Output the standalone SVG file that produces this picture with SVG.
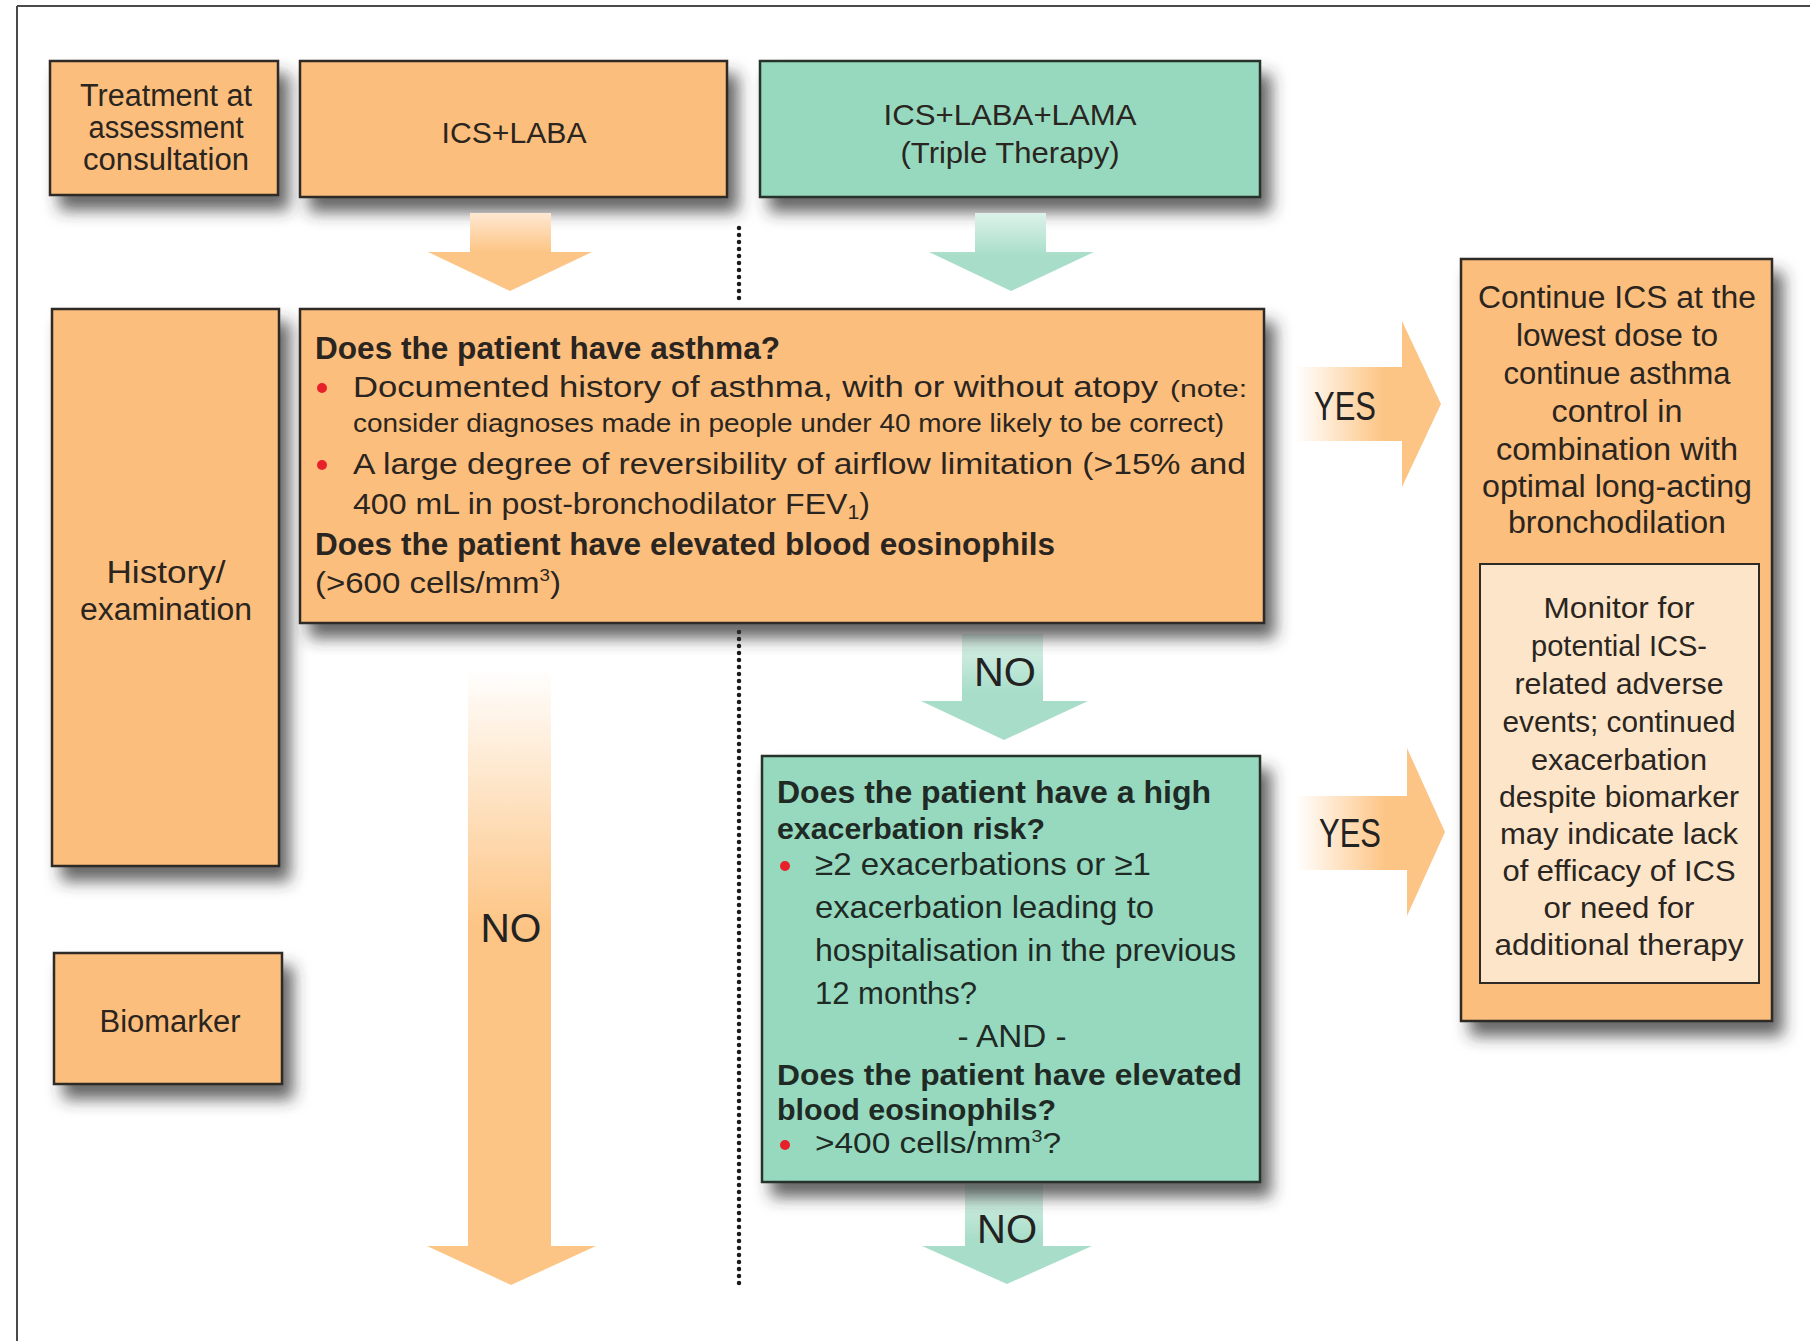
<svg xmlns="http://www.w3.org/2000/svg" width="1810" height="1341" viewBox="0 0 1810 1341">
<defs>
<filter id="sh" x="-10%" y="-10%" width="130%" height="140%">
<feDropShadow dx="10" dy="14" stdDeviation="8" flood-color="#333333" flood-opacity="0.75"/>
</filter>
<linearGradient id="gOrV" x1="0" y1="0" x2="0" y2="1">
<stop offset="0" stop-color="#FEE8D2"/><stop offset="0.5" stop-color="#FDC585"/><stop offset="1" stop-color="#FDC585"/>
</linearGradient>
<linearGradient id="gOrLong" x1="0" y1="0" x2="0" y2="1">
<stop offset="0" stop-color="#FFFFFF"/><stop offset="0.42" stop-color="#FDC585"/><stop offset="1" stop-color="#FDC585"/>
</linearGradient>
<linearGradient id="gGrV" x1="0" y1="0" x2="0" y2="1">
<stop offset="0" stop-color="#DDF2EA"/><stop offset="0.55" stop-color="#A8DEC9"/><stop offset="1" stop-color="#A8DEC9"/>
</linearGradient>
<linearGradient id="gOrH" x1="0" y1="0" x2="1" y2="0">
<stop offset="0" stop-color="#FFFFFF"/><stop offset="0.6" stop-color="#FDC585"/><stop offset="1" stop-color="#FDC585"/>
</linearGradient>
<style>
.or{fill:#FCBE7C;stroke:#2e2a25;stroke-width:2.5}
.gr{fill:#96D9BF;stroke:#25302b;stroke-width:2.5}
.pe{fill:#FDE5CA;stroke:#2e2a25;stroke-width:2}
text{font-family:"Liberation Sans",Arial,sans-serif;fill:#2a2520}
.c{text-anchor:middle}
.t30{font-size:30px}
.t31{font-size:31px}
.t32{font-size:32px}
.b{font-weight:bold}
.lab{font-size:40px;text-anchor:middle;fill:#222}
.bul{fill:#E8202A}
.gt{fill:#1f2a25}
</style>
</defs>
<rect width="1810" height="1341" fill="#FFFFFF"/>
<path d="M17 6 H1810 M17 6 V1341" stroke="#4a4a4a" stroke-width="2" fill="none"/>

<g id="node-treatment">
<rect class="or" x="50" y="61" width="228" height="134" filter="url(#sh)"/>
<text class="c t31" x="166" y="106" textLength="172" lengthAdjust="spacingAndGlyphs">Treatment at</text>
<text class="c t31" x="166" y="138" textLength="155" lengthAdjust="spacingAndGlyphs">assessment</text>
<text class="c t31" x="166" y="170" textLength="166" lengthAdjust="spacingAndGlyphs">consultation</text>
</g>
<g id="node-ics-laba">
<rect class="or" x="300" y="61" width="427" height="136" filter="url(#sh)"/>
<text class="c t30" x="514" y="143" textLength="145" lengthAdjust="spacingAndGlyphs">ICS+LABA</text>
</g>
<g id="node-triple">
<rect class="gr" x="760" y="61" width="500" height="136" filter="url(#sh)"/>
<text class="c t30" x="1010" y="125" textLength="253" lengthAdjust="spacingAndGlyphs">ICS+LABA+LAMA</text>
<text class="c t30" x="1010" y="163" textLength="219" lengthAdjust="spacingAndGlyphs">(Triple Therapy)</text>
</g>
<g id="node-history">
<rect class="or" x="52" y="309" width="227" height="557" filter="url(#sh)"/>
<text class="c t31" x="166" y="583" textLength="119" lengthAdjust="spacingAndGlyphs">History/</text>
<text class="c t31" x="166" y="620" textLength="172" lengthAdjust="spacingAndGlyphs">examination</text>
</g>
<g id="node-biomarker">
<rect class="or" x="54" y="953" width="228" height="131" filter="url(#sh)"/>
<text class="c t31" x="170" y="1032" textLength="141" lengthAdjust="spacingAndGlyphs">Biomarker</text>
</g>

<g id="connectors">
<path d="M739 228 V302 M739 632 V1289" stroke="#1a1a1a" stroke-width="4.5" stroke-linecap="round" stroke-dasharray="0 7" fill="none"/>
<polygon fill="url(#gOrV)" points="470,213 551,213 551,252 592,252 510,291 428,252 470,252"/>
<polygon fill="url(#gGrV)" points="975,213 1046,213 1046,252 1094,252 1011,291 929,252 975,252"/>
<polygon fill="url(#gGrV)" points="962,634 1043,634 1043,701 1088,701 1004,740 921,701 962,701"/>
<polygon fill="url(#gGrV)" points="965,1184 1043,1184 1043,1246 1092,1246 1007,1284 922,1246 965,1246"/>
<polygon fill="url(#gOrLong)" points="468,668 551,668 551,1246 596,1246 511,1285 427,1246 468,1246"/>
<polygon fill="url(#gOrH)" points="1296,367 1402,367 1402,321 1441,404 1402,487 1402,441 1296,441"/>
<polygon fill="url(#gOrH)" points="1296,796 1407,796 1407,748 1445,832 1407,916 1407,870 1296,870"/>
<text class="lab" x="1345" y="420" textLength="62" lengthAdjust="spacingAndGlyphs">YES</text>
<text class="lab" x="1350" y="847" textLength="62" lengthAdjust="spacingAndGlyphs">YES</text>
<text class="lab" x="1005" y="686" textLength="62" lengthAdjust="spacingAndGlyphs">NO</text>
<text class="lab" x="511" y="942" textLength="61" lengthAdjust="spacingAndGlyphs">NO</text>
<text class="lab" x="1007" y="1243" textLength="60" lengthAdjust="spacingAndGlyphs">NO</text>
</g>

<g id="node-asthma">
<rect class="or" x="300" y="309" width="964" height="314" filter="url(#sh)"/>
<text class="t31 b" x="315" y="359" textLength="465" lengthAdjust="spacingAndGlyphs">Does the patient have asthma?</text>
<circle class="bul" cx="322" cy="388" r="5"/>
<text class="t30" x="353" y="397" textLength="805" lengthAdjust="spacingAndGlyphs">Documented history of asthma, with or without atopy</text>
<text x="1170" y="397" font-size="24" textLength="77" lengthAdjust="spacingAndGlyphs">(note:</text>
<text x="353" y="432" font-size="25" textLength="871" lengthAdjust="spacingAndGlyphs">consider diagnoses made in people under 40 more likely to be correct)</text>
<circle class="bul" cx="322" cy="465" r="5"/>
<text class="t30" x="353" y="474" textLength="893" lengthAdjust="spacingAndGlyphs">A large degree of reversibility of airflow limitation (&gt;15% and</text>
<text class="t30" x="353" y="514" textLength="517" lengthAdjust="spacingAndGlyphs">400 mL in post-bronchodilator FEV<tspan font-size="20" dy="5">1</tspan><tspan dy="-5">)</tspan></text>
<text class="t31 b" x="315" y="555" textLength="740" lengthAdjust="spacingAndGlyphs">Does the patient have elevated blood eosinophils</text>
<text class="t30" x="315" y="593" textLength="246" lengthAdjust="spacingAndGlyphs">(&gt;600 cells/mm<tspan font-size="17" dy="-12">3</tspan><tspan dy="12">)</tspan></text>
</g>

<g id="node-exacerbation">
<rect class="gr" x="762" y="756" width="498" height="426" filter="url(#sh)"/>
<text class="t32 b gt" x="777" y="803" textLength="434" lengthAdjust="spacingAndGlyphs">Does the patient have a high</text>
<text class="t30 b gt" x="777" y="839" textLength="268" lengthAdjust="spacingAndGlyphs">exacerbation risk?</text>
<circle class="bul" cx="785" cy="866" r="5"/>
<text class="t32 gt" x="815" y="875" textLength="336" lengthAdjust="spacingAndGlyphs">≥2 exacerbations or ≥1</text>
<text class="t32 gt" x="815" y="918" textLength="339" lengthAdjust="spacingAndGlyphs">exacerbation leading to</text>
<text class="t32 gt" x="815" y="961" textLength="421" lengthAdjust="spacingAndGlyphs">hospitalisation in the previous</text>
<text class="t32 gt" x="815" y="1004" textLength="162" lengthAdjust="spacingAndGlyphs">12 months?</text>
<text class="t32 c gt" x="1012" y="1047" textLength="109" lengthAdjust="spacingAndGlyphs">- AND -</text>
<text class="t30 b gt" x="777" y="1085" textLength="465" lengthAdjust="spacingAndGlyphs">Does the patient have elevated</text>
<text class="t30 b gt" x="777" y="1120" textLength="279" lengthAdjust="spacingAndGlyphs">blood eosinophils?</text>
<circle class="bul" cx="785" cy="1145" r="5"/>
<text class="gt" x="815" y="1153" font-size="29" textLength="246" lengthAdjust="spacingAndGlyphs">&gt;400 cells/mm<tspan font-size="17" dy="-11">3</tspan><tspan dy="11">?</tspan></text>
</g>

<g id="node-continue">
<rect class="or" x="1461" y="259" width="311" height="762" filter="url(#sh)"/>
<text class="c t31" x="1617" y="308" textLength="278" lengthAdjust="spacingAndGlyphs">Continue ICS at the</text>
<text class="c t31" x="1617" y="346" textLength="202" lengthAdjust="spacingAndGlyphs">lowest dose to</text>
<text class="c t31" x="1617" y="384" textLength="227" lengthAdjust="spacingAndGlyphs">continue asthma</text>
<text class="c t31" x="1617" y="422" textLength="131" lengthAdjust="spacingAndGlyphs">control in</text>
<text class="c t31" x="1617" y="460" textLength="242" lengthAdjust="spacingAndGlyphs">combination with</text>
<text class="c t31" x="1617" y="497" textLength="270" lengthAdjust="spacingAndGlyphs">optimal long-acting</text>
<text class="c t31" x="1617" y="533" textLength="218" lengthAdjust="spacingAndGlyphs">bronchodilation</text>
</g>
<g id="node-monitor">
<rect class="pe" x="1480" y="564" width="279" height="419"/>
<text class="c t30" x="1619" y="618" textLength="151" lengthAdjust="spacingAndGlyphs">Monitor for</text>
<text class="c t30" x="1619" y="656" textLength="176" lengthAdjust="spacingAndGlyphs">potential ICS-</text>
<text class="c t30" x="1619" y="694" textLength="209" lengthAdjust="spacingAndGlyphs">related adverse</text>
<text class="c t30" x="1619" y="732" textLength="233" lengthAdjust="spacingAndGlyphs">events; continued</text>
<text class="c t30" x="1619" y="770" textLength="176" lengthAdjust="spacingAndGlyphs">exacerbation</text>
<text class="c t30" x="1619" y="807" textLength="240" lengthAdjust="spacingAndGlyphs">despite biomarker</text>
<text class="c t30" x="1619" y="844" textLength="238" lengthAdjust="spacingAndGlyphs">may indicate lack</text>
<text class="c t30" x="1619" y="881" textLength="233" lengthAdjust="spacingAndGlyphs">of efficacy of ICS</text>
<text class="c t30" x="1619" y="918" textLength="151" lengthAdjust="spacingAndGlyphs">or need for</text>
<text class="c t30" x="1619" y="955" textLength="249" lengthAdjust="spacingAndGlyphs">additional therapy</text>
</g>
</svg>
